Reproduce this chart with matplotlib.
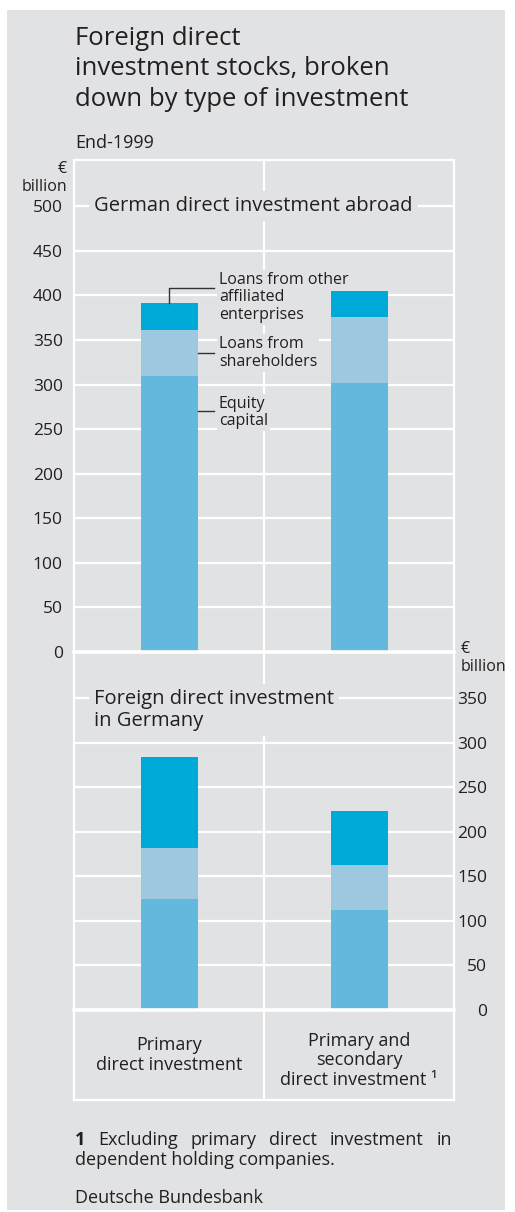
import numpy as np
import matplotlib.pyplot as plt
from matplotlib.patches import Rectangle

# values in euro billion, end-1999
categories = ['Primary\ndirect investment', 'Primary and\nsecondary\ndirect investment \u00b9']
abroad_equity = [310, 302]
abroad_shareholder_loans = [51, 74]
abroad_other_loans = [31, 29]
germany_equity = [125, 112]
germany_shareholder_loans = [57, 51]
germany_other_loans = [102, 61]
series_labels = ['Equity\ncapital', 'Loans from\nshareholders', 'Loans from other\naffiliated\nenterprises']
top_ticks = list(range(0, 501, 50))
bot_ticks = list(range(0, 351, 50))

BG = '#e1e2e4'
TXT = '#231f20'
C_EQ = '#63b8dd'
C_SH = '#9dc9e0'
C_OT = '#00aad8'

plt.rcParams['font.family'] = ['Open Sans', 'DejaVu Sans']

W, H = 515, 1212
fig = plt.figure(figsize=(W / 100, H / 100), dpi=100)
fig.patch.set_facecolor('white')


def box(l, t, r, b):
    return [l / W, 1 - b / H, (r - l) / W, (b - t) / H]


def ftext(x, y, s, **kw):
    kw.setdefault('color', TXT)
    return fig.text(x / W, 1 - y / H, s, **kw)


fig.patches.append(Rectangle((7 / W, 1 - 1210 / H), 498 / W, 1200 / H,
                             transform=fig.transFigure, facecolor=BG, edgecolor='none', zorder=-5))

x = np.arange(len(categories))
bw = 0.3

ax_top = fig.add_axes(box(74, 160, 454, 652))
ax_bot = fig.add_axes(box(74, 652, 454, 1010))
ax_lab = fig.add_axes(box(74, 1010, 454, 1100))

for ax in (ax_top, ax_bot, ax_lab):
    ax.set_facecolor('none')
    ax.set_xlim(-0.5, 1.5)
    ax.set_xticks([])
    ax.set_axisbelow(True)
    for s in ax.spines.values():
        s.set_color('white')
        s.set_linewidth(1.6)
    ax.axvline(0.5, color='white', lw=1.6, zorder=0.5)

# top panel
ax_top.bar(x, abroad_equity, bw, color=C_EQ, zorder=1)
ax_top.bar(x, abroad_shareholder_loans, bw, bottom=abroad_equity, color=C_SH, zorder=1)
b2 = np.array(abroad_equity) + np.array(abroad_shareholder_loans)
ax_top.bar(x, abroad_other_loans, bw, bottom=b2, color=C_OT, zorder=1)
ax_top.set_ylim(0, 552)
ax_top.set_yticks(top_ticks)
ax_top.yaxis.grid(True, color='white', lw=1.6)
ax_top.spines['bottom'].set_linewidth(2.6)
ax_top.tick_params(axis='y', length=0, labelsize=12.5, labelcolor=TXT, pad=8)

# bottom panel
ax_bot.bar(x, germany_equity, bw, color=C_EQ, zorder=1)
ax_bot.bar(x, germany_shareholder_loans, bw, bottom=germany_equity, color=C_SH, zorder=1)
g2 = np.array(germany_equity) + np.array(germany_shareholder_loans)
ax_bot.bar(x, germany_other_loans, bw, bottom=g2, color=C_OT, zorder=1)
ax_bot.set_ylim(0, 402)
ax_bot.set_yticks(bot_ticks)
ax_bot.yaxis.grid(True, color='white', lw=1.6)
ax_bot.spines['top'].set_visible(False)
ax_bot.spines['bottom'].set_linewidth(2.6)
ax_bot.yaxis.tick_right()
ax_bot.tick_params(axis='y', length=0, labelsize=12.5, labelcolor=TXT, pad=24)
for lbl in ax_bot.get_yticklabels():
    lbl.set_horizontalalignment('right')

# category label strip
ax_lab.set_ylim(0, 1)
ax_lab.set_yticks([])
ax_lab.spines['top'].set_visible(False)
for xi, cat, yc in zip(x, categories, [0.50, 0.44]):
    ax_lab.text(xi, yc, cat, ha='center', va='center', fontsize=13, color=TXT, linespacing=1.12)

# series annotations with leader lines (left bar, top panel)
tops = [abroad_equity[0], b2[0], b2[0] + abroad_other_loans[0]]
lx_end = 0.237
tx = 0.262
akw = dict(ha='left', va='center', fontsize=11.5, color=TXT,
           linespacing=1.12, zorder=0.8,
           bbox=dict(boxstyle='square,pad=0.12', fc=BG, ec='none'))
ax_top.plot([x[0], x[0], lx_end], [tops[2], 408.5, 408.5], color='#333333', lw=1.0, zorder=2)
ax_top.text(tx, 398, series_labels[2], **akw)
mid_sh = (tops[0] + tops[1]) / 2
ax_top.plot([x[0] + bw / 2, lx_end], [mid_sh, mid_sh], color='#333333', lw=1.0, zorder=2)
ax_top.text(tx, mid_sh, series_labels[1], **akw)
ax_top.plot([x[0] + bw / 2, lx_end], [270.5, 270.5], color='#333333', lw=1.0, zorder=2)
ax_top.text(tx, 269, series_labels[0], **akw)

# panel headings
ftext(94, 206, 'German direct investment abroad', fontsize=14.5, va='center', ha='left',
      bbox=dict(boxstyle='square,pad=0.25', fc=BG, ec='none'), zorder=5)
ftext(94, 710, 'Foreign direct investment\nin Germany', fontsize=14.5, va='center', ha='left',
      linespacing=1.08, bbox=dict(boxstyle='square,pad=0.25', fc=BG, ec='none'), zorder=5)

# units
ftext(67, 178, '\u20ac\nbillion', fontsize=11.5, ha='right', va='center', linespacing=1.15)
ftext(461, 658, '\u20ac\nbillion', fontsize=11.5, ha='left', va='center', linespacing=1.15,
      ma='left')

# title
ftext(75, 69, 'Foreign direct\ninvestment stocks, broken\ndown by type of investment',
      fontsize=18.5, ha='left', va='center', linespacing=1.31)
ftext(75, 143, 'End-1999', fontsize=13, ha='left', va='center')

# footnote, justified first line
fig.canvas.draw()
r = fig.canvas.get_renderer()
fs = 13
t1 = ftext(75, 1140, '1', fontsize=fs, fontweight='bold', va='center', ha='left')
words = ['Excluding', 'primary', 'direct', 'investment', 'in']
wts = [ftext(0, 1140, w, fontsize=fs, va='center', ha='left') for w in words]
wid = [t.get_window_extent(r).width for t in wts]
x0 = 75 + t1.get_window_extent(r).width
gap = (452 - x0 - sum(wid)) / len(words)
xp = x0 + gap
for t, w in zip(wts, wid):
    t.set_x(xp / W)
    xp += w + gap
ftext(75, 1160, 'dependent holding companies.', fontsize=fs, va='center', ha='left')
ftext(75, 1198, 'Deutsche Bundesbank', fontsize=fs, va='center', ha='left')

fig.savefig('out.png', dpi=100, facecolor='white')
